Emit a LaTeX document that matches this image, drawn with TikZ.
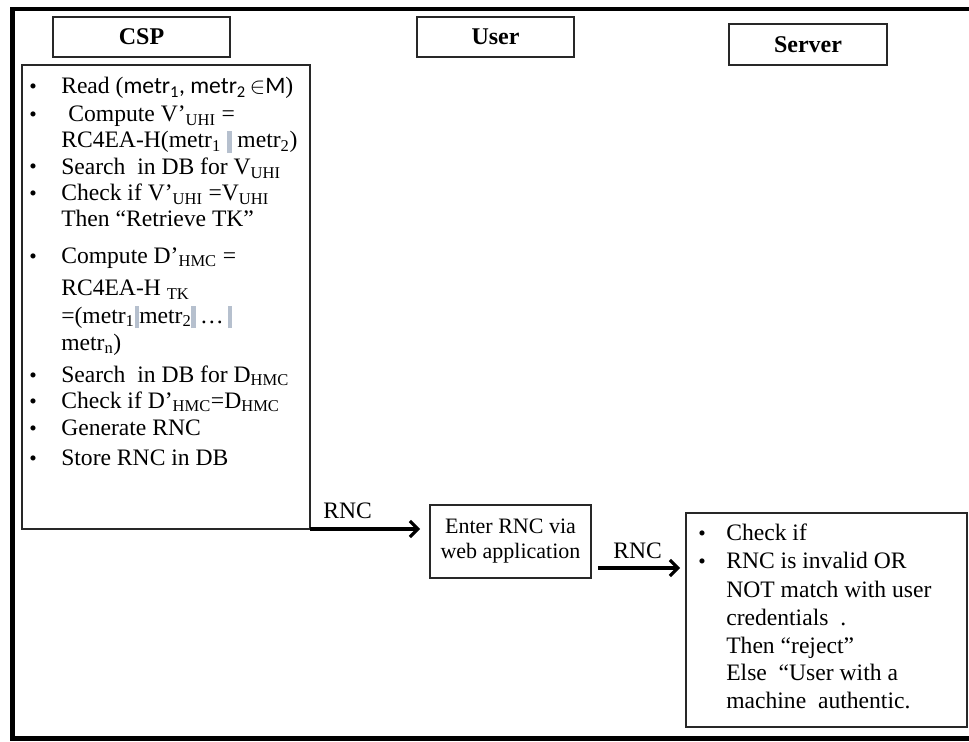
\documentclass[tikz,border=0pt]{standalone}
\usepackage{fontspec}
\setmainfont{Liberation Serif}
\newfontfamily\sansf{Carlito}
\usetikzlibrary{arrows.meta}
\definecolor{barc}{RGB}{182,192,206}
\definecolor{edge}{RGB}{40,40,40}
\newcommand\sbs[1]{\textsubscript{#1}}
\newcommand\gbar{{\color{barc}\rule[-0.22em]{3.5pt}{0.95em}}}
\begin{document}
\begin{tikzpicture}[x=0.75pt,y=-0.75pt,
  box/.style={draw=edge,line width=1.3pt,inner sep=0pt,outer sep=0pt},
  hdr/.style={font=\fontsize{18}{20}\selectfont\bfseries},
  txt/.style={anchor=base west,inner sep=0pt,font=\fontsize{17.7}{19}\selectfont},
  bul/.style={anchor=base,inner sep=0pt,font=\fontsize{16}{19}\selectfont},
  flow/.style={line width=2.3pt,-{Straight Barb[length=6pt,width=12pt]}},
]
\useasboundingbox (0,0) rectangle (969,741);
% open outer frame
\draw[line width=3.6pt] (969,9) -- (12.5,9) -- (12.5,738.5) -- (969,738.5);

% column headers
\node[box,hdr,minimum width=132.75pt,minimum height=30pt] (csph) at (141.5,37) {CSP};
\node[box,hdr,minimum width=117.75pt,minimum height=30pt] (userh) at (495.5,37) {User};
\node[box,hdr,minimum width=118.5pt,minimum height=30.75pt] (srvh) at (808,44.5) {Server};

% CSP steps
\node[box,minimum width=216pt,minimum height=348pt] (csp) at (166,297) {};
\foreach \yy in {94,122,174,201,263,382,408,435,465}
  \node[bul] at (33,\yy) {•};
\node[txt] (c1) at (61,94) {Read ({\sansf metr\sbs{1}, metr\sbs{2}\,$\in$M})};
\node[txt] (c2) at (61,122) {\hspace{0.3em}Compute V'\sbs{UHI} =};
\node[txt] (c3) at (61,148) {RC4EA-H(metr\sbs{1} \gbar\ metr\sbs{2})};
\node[txt] (c4) at (61,175) {Search\ \ in DB for V\sbs{UHI}};
\node[txt] (c5) at (61,201) {Check if V'\sbs{UHI} =V\sbs{UHI}};
\node[txt] (c6) at (61,227) {Then ``Retrieve TK''};
\node[txt] (c7) at (61,263) {Compute D'\sbs{HMC} =};
\node[txt] (c8) at (61,296) {RC4EA-H \sbs{TK}};
\node[txt] (c9) at (61,323) {=(metr\sbs{1}\gbar metr\sbs{2}\gbar\,\ldots\,\gbar};
\node[txt] (c10) at (61,350) {metr\sbs{n})};
\node[txt] (c11) at (61,382) {Search\ \ in DB for D\sbs{HMC}};
\node[txt] (c12) at (61,408) {Check if D'\sbs{HMC}=D\sbs{HMC}};
\node[txt] (c13) at (61,435) {Generate RNC};
\node[txt] (c14) at (61,465) {Store RNC in DB};

% user entry
\node[box,minimum width=120.75pt,minimum height=54.75pt,align=center,
  font=\fontsize{16.5}{18.75}\selectfont] (enter) at (510.5,541.5) {Enter RNC via\\web application};

% server check
\node[box,minimum width=210.75pt,minimum height=160.5pt] (srv) at (826.5,620) {};
\foreach \yy in {540,568}
  \node[bul] at (702,\yy) {•};
\node[txt] (s1) at (726,540) {Check if};
\node[txt] (s2) at (726,568) {RNC is invalid OR};
\node[txt] (s3) at (726,597) {NOT match with user};
\node[txt] (s4) at (726,625) {credentials\ \ .};
\node[txt] (s5) at (726,653) {Then ``reject''};
\node[txt] (s6) at (726,680) {Else\ \ ``User with a};
\node[txt] (s7) at (726,708) {machine\ \ authentic.};

% RNC hand-offs
\coordinate (a1) at (420,529);
\draw[flow] (csp.south east) -- (a1);
\node[txt] (l1) at (323,518) {RNC};
\coordinate (b0) at (598,568);
\coordinate (b1) at (680,568);
\draw[flow] (b0) -- (b1);
\node[txt] (l2) at (613,558) {RNC};
\end{tikzpicture}
\end{document}
